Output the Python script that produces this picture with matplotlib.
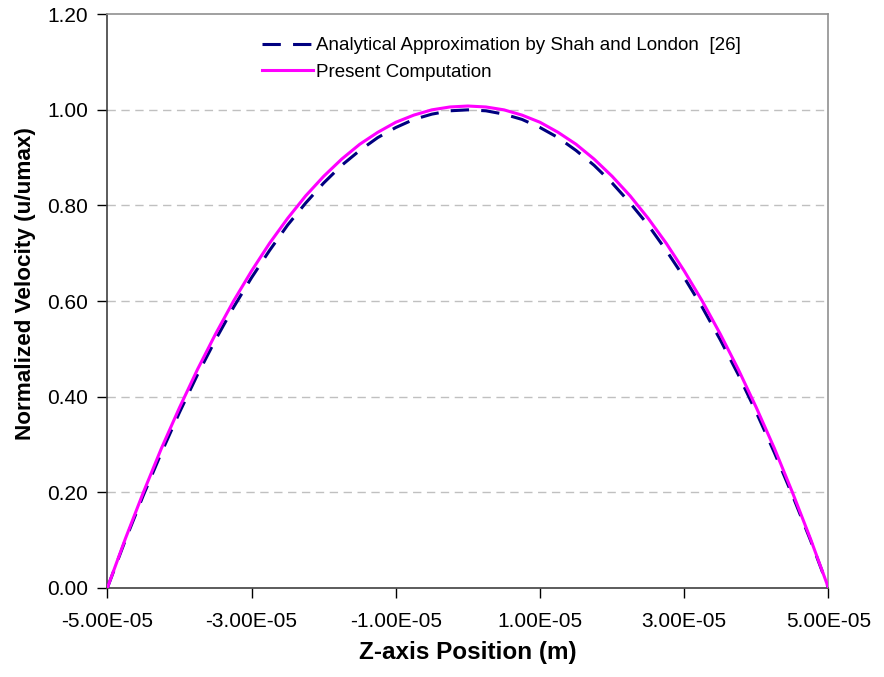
import matplotlib
matplotlib.use("Agg")
import matplotlib.pyplot as plt
from matplotlib.ticker import FixedLocator

plt.rcParams['font.family'] = ['Liberation Sans', 'DejaVu Sans']

# Z-axis positions (m)
z_pos = [-5.00e-05, -4.75e-05, -4.50e-05, -4.25e-05, -4.00e-05, -3.75e-05, -3.50e-05,
         -3.25e-05, -3.00e-05, -2.75e-05, -2.50e-05, -2.25e-05, -2.00e-05, -1.75e-05,
         -1.50e-05, -1.25e-05, -1.00e-05, -7.50e-06, -5.00e-06, -2.50e-06, 0.0,
         2.50e-06, 5.00e-06, 7.50e-06, 1.00e-05, 1.25e-05, 1.50e-05, 1.75e-05,
         2.00e-05, 2.25e-05, 2.50e-05, 2.75e-05, 3.00e-05, 3.25e-05, 3.50e-05,
         3.75e-05, 4.00e-05, 4.25e-05, 4.50e-05, 4.75e-05, 5.00e-05]

# Analytical approximation (Shah and London)
u_analytical = [0.000, 0.100, 0.194, 0.283, 0.367, 0.446, 0.519, 0.587, 0.649, 0.706,
                0.759, 0.805, 0.847, 0.884, 0.915, 0.942, 0.963, 0.980, 0.991, 0.998,
                1.000,
                0.998, 0.991, 0.980, 0.963, 0.942, 0.915, 0.884, 0.847, 0.805, 0.759,
                0.706, 0.649, 0.587, 0.519, 0.446, 0.367, 0.283, 0.194, 0.100, 0.000]

# Present computation
u_present = [0.000, 0.103, 0.200, 0.292, 0.377, 0.457, 0.531, 0.600, 0.663, 0.721,
             0.773, 0.820, 0.861, 0.897, 0.928, 0.953, 0.974, 0.989, 1.000, 1.006,
             1.008,
             1.006, 1.000, 0.989, 0.974, 0.953, 0.928, 0.897, 0.861, 0.820, 0.773,
             0.721, 0.663, 0.600, 0.531, 0.457, 0.377, 0.292, 0.200, 0.103, 0.000]

x_ticks = [-5.0e-05, -3.0e-05, -1.0e-05, 1.0e-05, 3.0e-05, 5.0e-05]
x_tick_labels = ["-5.00E-05", "-3.00E-05", "-1.00E-05", "1.00E-05", "3.00E-05", "5.00E-05"]
y_ticks = [0.0, 0.2, 0.4, 0.6, 0.8, 1.0, 1.2]
y_tick_labels = ["0.00", "0.20", "0.40", "0.60", "0.80", "1.00", "1.20"]

fig = plt.figure(figsize=(8.84, 6.77), dpi=100)
ax = fig.add_axes([0.1214, 0.1315, 0.8158, 0.8475])

ax.plot(z_pos, u_analytical, color='#000080', lw=2.2, linestyle=(0, (6, 4)),
        label='Analytical Approximation by Shah and London  [26]', zorder=3)
ax.plot(z_pos, u_present, color='#FF00FF', lw=2.2,
        label='Present Computation', zorder=4)

ax.set_xlim(-5.0e-05, 5.0e-05)
ax.set_ylim(0.0, 1.2)
ax.xaxis.set_major_locator(FixedLocator(x_ticks))
ax.set_xticklabels(x_tick_labels)
ax.yaxis.set_major_locator(FixedLocator(y_ticks))
ax.set_yticklabels(y_tick_labels)

ax.tick_params(axis='both', direction='out', length=7, width=1.0,
               labelsize=15, colors='#000000')
ax.tick_params(axis='x', pad=10)
ax.tick_params(axis='y', pad=7)

# Horizontal dashed grid lines
for yv in y_ticks[1:-1]:
    ax.axhline(yv, color='#C0C0C0', lw=1.0, linestyle=(0, (6, 4)), zorder=1)

for side in ('left', 'bottom'):
    ax.spines[side].set_color('#404040')
    ax.spines[side].set_linewidth(1.2)
for side in ('top', 'right'):
    ax.spines[side].set_color('#909090')
    ax.spines[side].set_linewidth(1.2)

ax.set_xlabel('Z-axis Position (m)', fontsize=17.5, fontweight='bold')
ax.xaxis.set_label_coords(0.5, -0.092)
ax.xaxis.label.set_va('top')

ax.set_ylabel('Normalized Velocity (u/umax)', fontsize=16.2, fontweight='bold')
ax.yaxis.set_label_coords(-0.114, 0.53)
ax.yaxis.label.set_va('center')
ax.yaxis.label.set_ha('center')

leg = ax.legend(loc='upper left', bbox_to_anchor=(0.2145, 0.960), frameon=False,
                fontsize=13.5, handlelength=2.7, handletextpad=0.2, labelspacing=0.5,
                borderpad=0.0, borderaxespad=0.0)

fig.savefig('out.png', dpi=100, facecolor='white')
